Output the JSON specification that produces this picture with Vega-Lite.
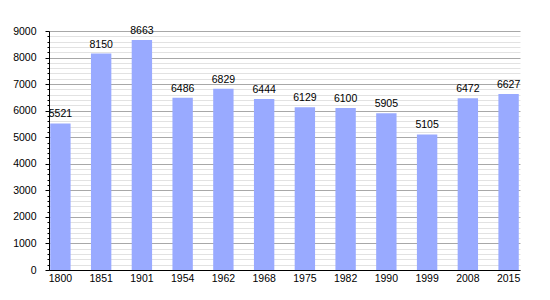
{
  "$schema": "https://vega.github.io/schema/vega-lite/v6.json",
  "autosize": "none",
  "width": 471,
  "height": 239,
  "padding": {"left": 49, "top": 31, "right": 30, "bottom": 30},
  "background": "white",
  "config": {
    "view": {"stroke": null},
    "font": "Liberation Sans",
    "axis": {"labelFont": "Liberation Sans", "labelFontSize": 10.5, "labelColor": "black", "title": null}
  },
  "data": {
    "values": [
      {"year": "1800", "pop": 5521},
      {"year": "1851", "pop": 8150},
      {"year": "1901", "pop": 8663},
      {"year": "1954", "pop": 6486},
      {"year": "1962", "pop": 6829},
      {"year": "1968", "pop": 6444},
      {"year": "1975", "pop": 6129},
      {"year": "1982", "pop": 6100},
      {"year": "1990", "pop": 5905},
      {"year": "1999", "pop": 5105},
      {"year": "2008", "pop": 6472},
      {"year": "2015", "pop": 6627}
    ]
  },
  "encoding": {
    "x": {
      "field": "year", "type": "ordinal", "sort": null,
      "scale": {"paddingInner": 0.5, "paddingOuter": 0.03},
      "axis": {"labelAngle": 0, "tickSize": 0, "labelPadding": 3, "domainColor": "black", "domainWidth": 1, "grid": false}
    }
  },
  "layer": [
    {
      "mark": {"type": "bar", "color": "#99aaff"},
      "encoding": {
        "y": {
          "field": "pop", "type": "quantitative",
          "scale": {"domain": [0, 9000], "nice": false},
          "axis": {
            "orient": "left",
            "values": [200,400,600,800,1200,1400,1600,1800,2200,2400,2600,2800,3200,3400,3600,3800,4200,4400,4600,4800,5200,5400,5600,5800,6200,6400,6600,6800,7200,7400,7600,7800,8200,8400,8600,8800],
            "labels": false, "domain": false, "tickSize": 2, "tickColor": "black",
            "grid": true, "gridColor": "#e2e2e2", "zindex": 0
          }
        }
      }
    },
    {
      "mark": {"type": "text", "baseline": "bottom", "dy": -4, "fontSize": 10.5, "font": "Liberation Sans", "color": "black"},
      "encoding": {
        "y": {
          "field": "pop", "type": "quantitative",
          "axis": {
            "orient": "left", "format": "d",
            "values": [0,1000,2000,3000,4000,5000,6000,7000,8000,9000],
            "tickSize": 4, "tickColor": "black", "labelPadding": 9,
            "domain": true, "domainColor": "black",
            "grid": true, "gridColor": "#a8a8a8", "zindex": 0
          }
        },
        "text": {"field": "pop", "type": "quantitative", "format": "d"}
      }
    }
  ],
  "resolve": {"axis": {"y": "independent"}}
}
